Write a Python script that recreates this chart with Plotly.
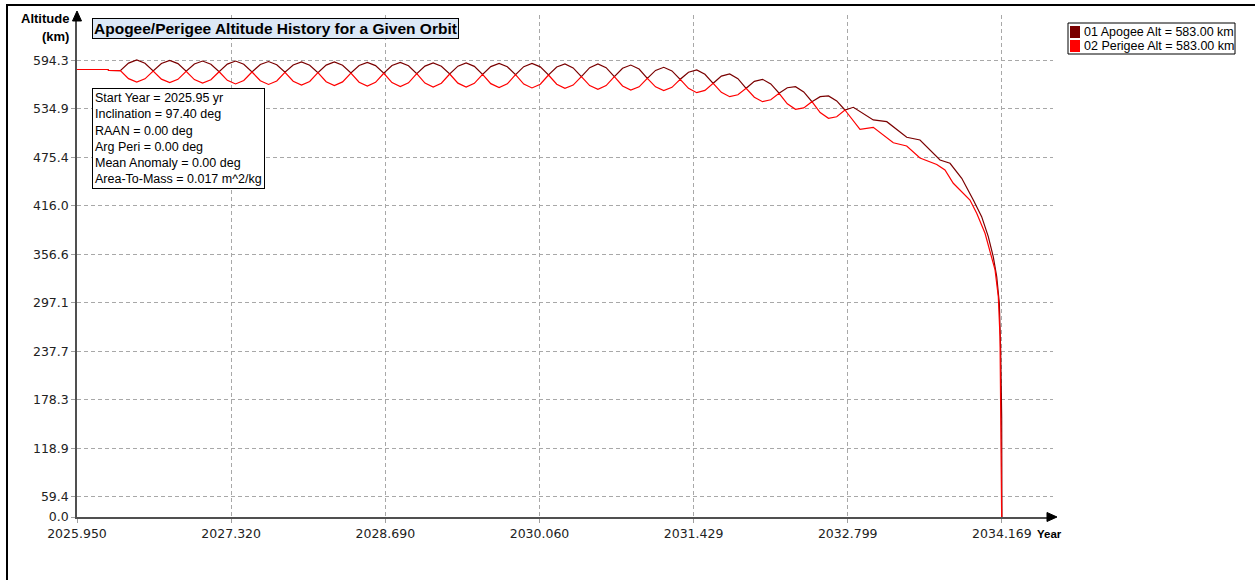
import plotly.graph_objects as go

# ---------------- data ----------------
pre_years = [2025.950, 2026.225, 2026.232]
pre_alt = [583.0, 583.0, 581.8]

osc_years = [
    2026.335, 2026.408, 2026.481, 2026.554, 2026.627, 2026.700, 2026.774, 2026.847,
    2026.920, 2026.993, 2027.066, 2027.140, 2027.213, 2027.286, 2027.359, 2027.432,
    2027.505, 2027.579, 2027.652, 2027.725, 2027.798, 2027.871, 2027.945, 2028.018,
    2028.091, 2028.164, 2028.237, 2028.310, 2028.384, 2028.457, 2028.530, 2028.603,
    2028.676, 2028.749, 2028.823, 2028.896, 2028.969, 2029.042, 2029.115, 2029.188,
    2029.262, 2029.335, 2029.408, 2029.481, 2029.554, 2029.627, 2029.701, 2029.774,
    2029.847, 2029.920, 2029.993, 2030.067, 2030.140, 2030.213, 2030.286, 2030.359,
    2030.432, 2030.506, 2030.579, 2030.652, 2030.725, 2030.798, 2030.871, 2030.945,
    2031.018, 2031.091, 2031.164, 2031.237, 2031.310, 2031.384, 2031.457, 2031.530,
    2031.603, 2031.676, 2031.750, 2031.823, 2031.896, 2031.969, 2032.042, 2032.115,
    2032.189, 2032.262, 2032.335, 2032.408, 2032.481, 2032.554, 2032.628, 2032.701,
    2032.774,
]
apogee_osc = [
    581.6,
    590.9, 594.7, 590.7, 581.2,
    590.4, 594.1, 590.2, 580.8,
    589.8, 593.4, 589.5, 580.3,
    589.6, 593.4, 589.5, 580.0,
    589.1, 592.8, 588.9, 579.6,
    588.6, 592.2, 588.3, 579.1,
    588.4, 592.2, 588.2, 578.7,
    587.9, 591.6, 587.8, 578.4,
    587.9, 591.6, 587.6, 577.9,
    587.2, 591.0, 587.0, 577.5,
    587.1, 591.0, 586.9, 577.1,
    586.6, 590.4, 586.4, 576.7,
    586.5, 590.4, 586.3, 576.3,
    586.1, 589.8, 585.0, 574.2,
    585.3, 589.8, 585.3, 574.2,
    584.6, 588.5, 583.6, 572.2,
    581.9, 585.7, 581.3, 571.0,
    579.6, 582.4, 577.1, 566.1,
    574.9, 577.5, 571.8, 560.0,
    568.5, 571.0, 565.4, 553.9,
    560.7, 562.0, 555.6, 543.6,
    549.7, 550.6, 544.6, 533.4,
]
perigee_osc = [
    581.6,
    571.8, 567.7, 571.6, 581.2,
    571.2, 567.1, 571.0, 580.8,
    570.7, 566.5, 570.4, 580.3,
    569.7, 565.3, 569.6, 580.0,
    569.2, 564.7, 569.0, 579.6,
    568.6, 564.0, 568.3, 579.1,
    568.0, 563.4, 567.8, 578.7,
    567.4, 562.8, 567.3, 578.4,
    567.0, 562.2, 566.7, 577.9,
    566.4, 561.6, 566.2, 577.5,
    566.3, 561.6, 566.1, 577.1,
    565.7, 561.0, 565.5, 576.7,
    565.2, 560.4, 565.0, 576.3,
    565.0, 560.0, 563.9, 574.2,
    563.3, 558.8, 563.3, 574.2,
    562.8, 557.9, 561.8, 572.2,
    561.8, 557.3, 561.2, 571.0,
    559.9, 554.6, 557.4, 566.1,
    555.1, 549.7, 552.0, 560.0,
    549.0, 543.6, 545.9, 553.9,
    541.0, 534.3, 535.9, 543.6,
    530.2, 523.2, 525.1, 533.4,
]

apogee_tail_years = [2032.849, 2033.026, 2033.146, 2033.323, 2033.441, 2033.619, 2033.708,
                     2033.812, 2033.915, 2033.989, 2034.048, 2034.092, 2034.123, 2034.146,
                     2034.158, 2034.167, 2034.170]
apogee_tail_alt = [536.7, 521.2, 519.1, 500.0, 496.6, 472.1, 468.1,
                   449.7, 423.1, 402.7, 378.2, 353.7, 329.1, 296.6,
                   239.3, 157.6, 0.0]

perigee_tail_years = [2032.908, 2033.026, 2033.204, 2033.323, 2033.441, 2033.590, 2033.663,
                      2033.737, 2033.885, 2033.945, 2034.019, 2034.078, 2034.108, 2034.137,
                      2034.152, 2034.169]
perigee_tail_alt = [509.8, 512.2, 493.3, 489.3, 474.6, 466.6, 459.9,
                    443.6, 423.1, 406.8, 382.3, 353.7, 337.4, 304.6,
                    255.6, 0.0]

series_names = ["01 Apogee Alt = 583.00 km", "02 Perigee Alt = 583.00 km"]
series_colors = ["#7a0000", "#ff0000"]

x_tick_values = [2025.950, 2027.320, 2028.690, 2030.060, 2031.429, 2032.799, 2034.169]
y_tick_values = [59.43, 118.86, 178.29, 237.72, 297.15, 356.58, 416.01, 475.44, 534.87, 594.3]
y_tick_labels = ["59.4", "118.9", "178.3", "237.7", "297.1", "356.6", "416.0", "475.4", "534.9", "594.3"]
y_floor_label = "0.0"

info_lines = [
    "Start Year = 2025.95 yr",
    "Inclination = 97.40 deg",
    "RAAN = 0.00 deg",
    "Arg Peri = 0.00 deg",
    "Mean Anomaly = 0.00 deg",
    "Area-To-Mass = 0.017 m^2/kg",
]
chart_title = "Apogee/Perigee Altitude History for a Given Orbit"

# ---------------- layout geometry ----------------
W, H = 1255, 580
PL, PR, PT, PB = 77, 1053, 15, 517   # plot area in pixels
X_MIN, X_MAX = 2025.95, 2034.623
Y_MIN, Y_MAX = 34.7, 649.8


def px(x):
    return (x - PL) / (PR - PL)


def py(y):
    return (PB - y) / (PB - PT)


FONT = "Liberation Sans, Arial, sans-serif"
TICK_FONT = "DejaVu Sans, sans-serif"

apogee_x = pre_years + osc_years + apogee_tail_years
apogee_y = pre_alt + apogee_osc + apogee_tail_alt
perigee_x = pre_years + osc_years + perigee_tail_years
perigee_y = pre_alt + perigee_osc + perigee_tail_alt

fig = go.Figure()
fig.add_trace(go.Scatter(x=apogee_x, y=apogee_y, mode="lines", name=series_names[0],
                         line=dict(color=series_colors[0], width=1.2), showlegend=False))
fig.add_trace(go.Scatter(x=perigee_x, y=perigee_y, mode="lines", name=series_names[1],
                         line=dict(color=series_colors[1], width=1.2), showlegend=False))

grid = dict(showgrid=True, gridcolor="#a8a8a8", griddash="4px,3px", gridwidth=1)
fig.update_xaxes(range=[X_MIN, X_MAX], tickvals=x_tick_values,
                 ticktext=["%.3f" % v for v in x_tick_values],
                 showline=True, linecolor="#505050", linewidth=1.5,
                 ticks="outside", ticklen=4, tickcolor="#a0a0a0",
                 tickfont=dict(family=TICK_FONT, size=12.5, color="#222"),
                 zeroline=False, **grid)
fig.update_yaxes(range=[Y_MIN, Y_MAX], tickvals=[Y_MIN] + y_tick_values,
                 ticktext=[y_floor_label] + y_tick_labels,
                 showline=True, linecolor="#505050", linewidth=1.5,
                 ticks="outside", ticklen=4, tickcolor="#a0a0a0",
                 tickfont=dict(family=TICK_FONT, size=12.5, color="#222"),
                 zeroline=False, **grid)

shapes = []
# outer frame
shapes.append(dict(type="line", xref="paper", yref="paper", x0=px(6), x1=px(1255), y0=py(5), y1=py(5),
                   line=dict(color="black", width=2)))
shapes.append(dict(type="line", xref="paper", yref="paper", x0=px(7), x1=px(7), y0=py(4), y1=py(580),
                   line=dict(color="black", width=2)))
# axis arrow heads
shapes.append(dict(type="path", xref="paper", yref="paper",
                   path="M %f,%f L %f,%f L %f,%f Z" % (px(1057), py(517), px(1047), py(512.5), px(1047), py(521.5)),
                   fillcolor="black", line=dict(color="black", width=1)))
shapes.append(dict(type="path", xref="paper", yref="paper",
                   path="M %f,%f L %f,%f L %f,%f Z" % (px(77), py(11), px(72.5), py(21), px(81.5), py(21)),
                   fillcolor="black", line=dict(color="black", width=1)))
# legend box
shapes.append(dict(type="rect", xref="paper", yref="paper", x0=px(1068), x1=px(1235), y0=py(23), y1=py(54),
                   line=dict(color="black", width=1), fillcolor="white"))
for i, c in enumerate(series_colors):
    shapes.append(dict(type="rect", xref="paper", yref="paper", x0=px(1070), x1=px(1080),
                       y0=py(26 + 14 * i), y1=py(38 + 14 * i), line=dict(width=0), fillcolor=c))

annotations = []
annotations.append(dict(xref="paper", yref="paper", x=px(92), y=py(18), xanchor="left", yanchor="top",
                        text="<b>%s</b>" % chart_title, showarrow=False,
                        font=dict(family=FONT, size=15.5, color="black"),
                        bgcolor="#dce8f6", bordercolor="black", borderwidth=1, borderpad=1))
annotations.append(dict(xref="paper", yref="paper", x=px(92), y=py(88), xanchor="left", yanchor="top",
                        text="<br>".join(info_lines), align="left", showarrow=False,
                        font=dict(family=FONT, size=12.5, color="black"),
                        bgcolor="white", bordercolor="black", borderwidth=1, borderpad=2))
for i, name in enumerate(series_names):
    annotations.append(dict(xref="paper", yref="paper", x=px(1082), y=py(32 + 14 * i),
                            xanchor="left", yanchor="middle", text=name, showarrow=False,
                            font=dict(family=FONT, size=12.5, color="black")))
annotations.append(dict(xref="paper", yref="paper", x=px(71), y=py(19), xanchor="right", yanchor="middle",
                        text="<b>Altitude</b>", showarrow=False, font=dict(family=FONT, size=13, color="black")))
annotations.append(dict(xref="paper", yref="paper", x=px(71), y=py(37), xanchor="right", yanchor="middle",
                        text="<b>(km)</b>", showarrow=False, font=dict(family=FONT, size=13, color="black")))
annotations.append(dict(xref="paper", yref="paper", x=px(1035), y=py(534), xanchor="left", yanchor="middle",
                        text="<b>Year</b>", showarrow=False, font=dict(family=FONT, size=11.5, color="black")))

fig.update_layout(width=W, height=H, margin=dict(l=PL, r=W - PR, t=PT, b=H - PB),
                  paper_bgcolor="white", plot_bgcolor="white",
                  shapes=shapes, annotations=annotations, showlegend=False)

fig.write_html("out.html", config={"displayModeBar": False},
               post_script="document.body.style.margin='0px';")
